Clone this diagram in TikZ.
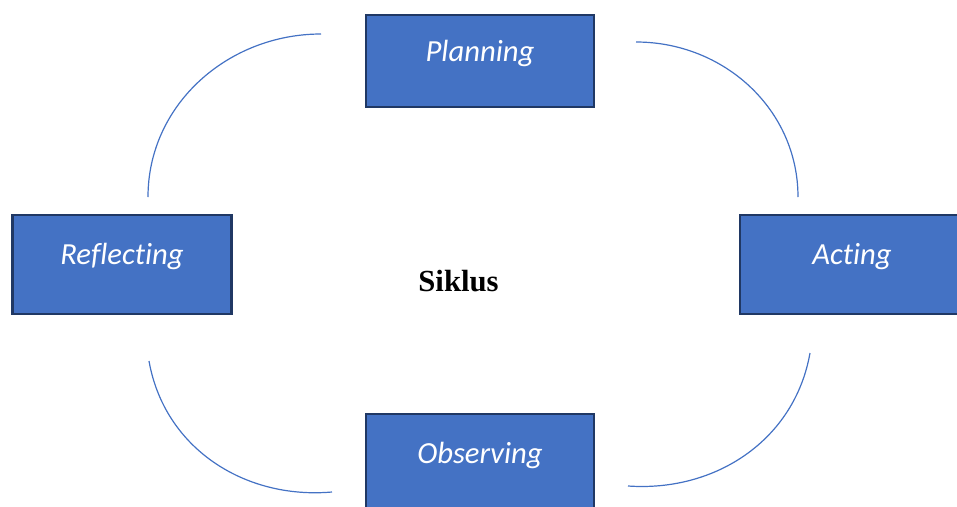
\documentclass[tikz,border=0pt]{standalone}
\usepackage{fontspec}
\setmainfont{Liberation Serif}
\newfontfamily\stagefont[Ligatures=CommonOff]{Carlito}
\definecolor{stageblue}{RGB}{68,114,196}
\definecolor{stageline}{RGB}{32,56,100}

\begin{document}
\begin{tikzpicture}[x=0.75pt,y=0.75pt,
  stage/.style={draw=stageline,line width=1.9pt,fill=stageblue,text=white,
    font=\stagefont\itshape\fontsize{23}{27}\selectfont,
    text height=12pt,text depth=12pt,inner sep=0pt},
  loopline/.style={draw=stageblue,line width=0.9pt}]

  \path[use as bounding box,clip] (0,0) rectangle (957,-507);

  %% the four stages
  \node[stage,minimum width=171pt,minimum height=69pt] (plan) at (480,-61) {Planning};
  \node[stage,minimum width=164pt,minimum height=74pt] (refl) at (122,-264.5) {Reflecting};
  \node[stage,minimum width=168pt,minimum height=74pt] (act) at (852,-264.5) {Acting};
  \node[stage,minimum width=171pt,minimum height=74pt] (obs) at (480,-463.5) {Observing};

  \node[anchor=base,font=\bfseries\fontsize{23}{27}\selectfont] (siklus) at (458.5,-291) {Siklus};

  %% arc ends
  \coordinate (tl-a) at (321,-34);  \coordinate (tl-b) at (148,-197);
  \coordinate (tr-a) at (636,-42);  \coordinate (tr-b) at (798,-197);
  \coordinate (br-a) at (810,-353); \coordinate (br-b) at (628,-486);
  \coordinate (bl-a) at (149,-361); \coordinate (bl-b) at (332,-492);

  \draw[loopline] (tl-a) to[out=180,in=90] (tl-b); % plan -> refl
  \draw[loopline] (tr-a) to[out=0,in=90] (tr-b);   % plan -> act
  \draw[loopline] (br-a) to[out=-100,in=-4] (br-b); % act -> obs
  \draw[loopline] (bl-a) to[out=-80,in=-175] (bl-b); % refl -> obs

\end{tikzpicture}
\end{document}
